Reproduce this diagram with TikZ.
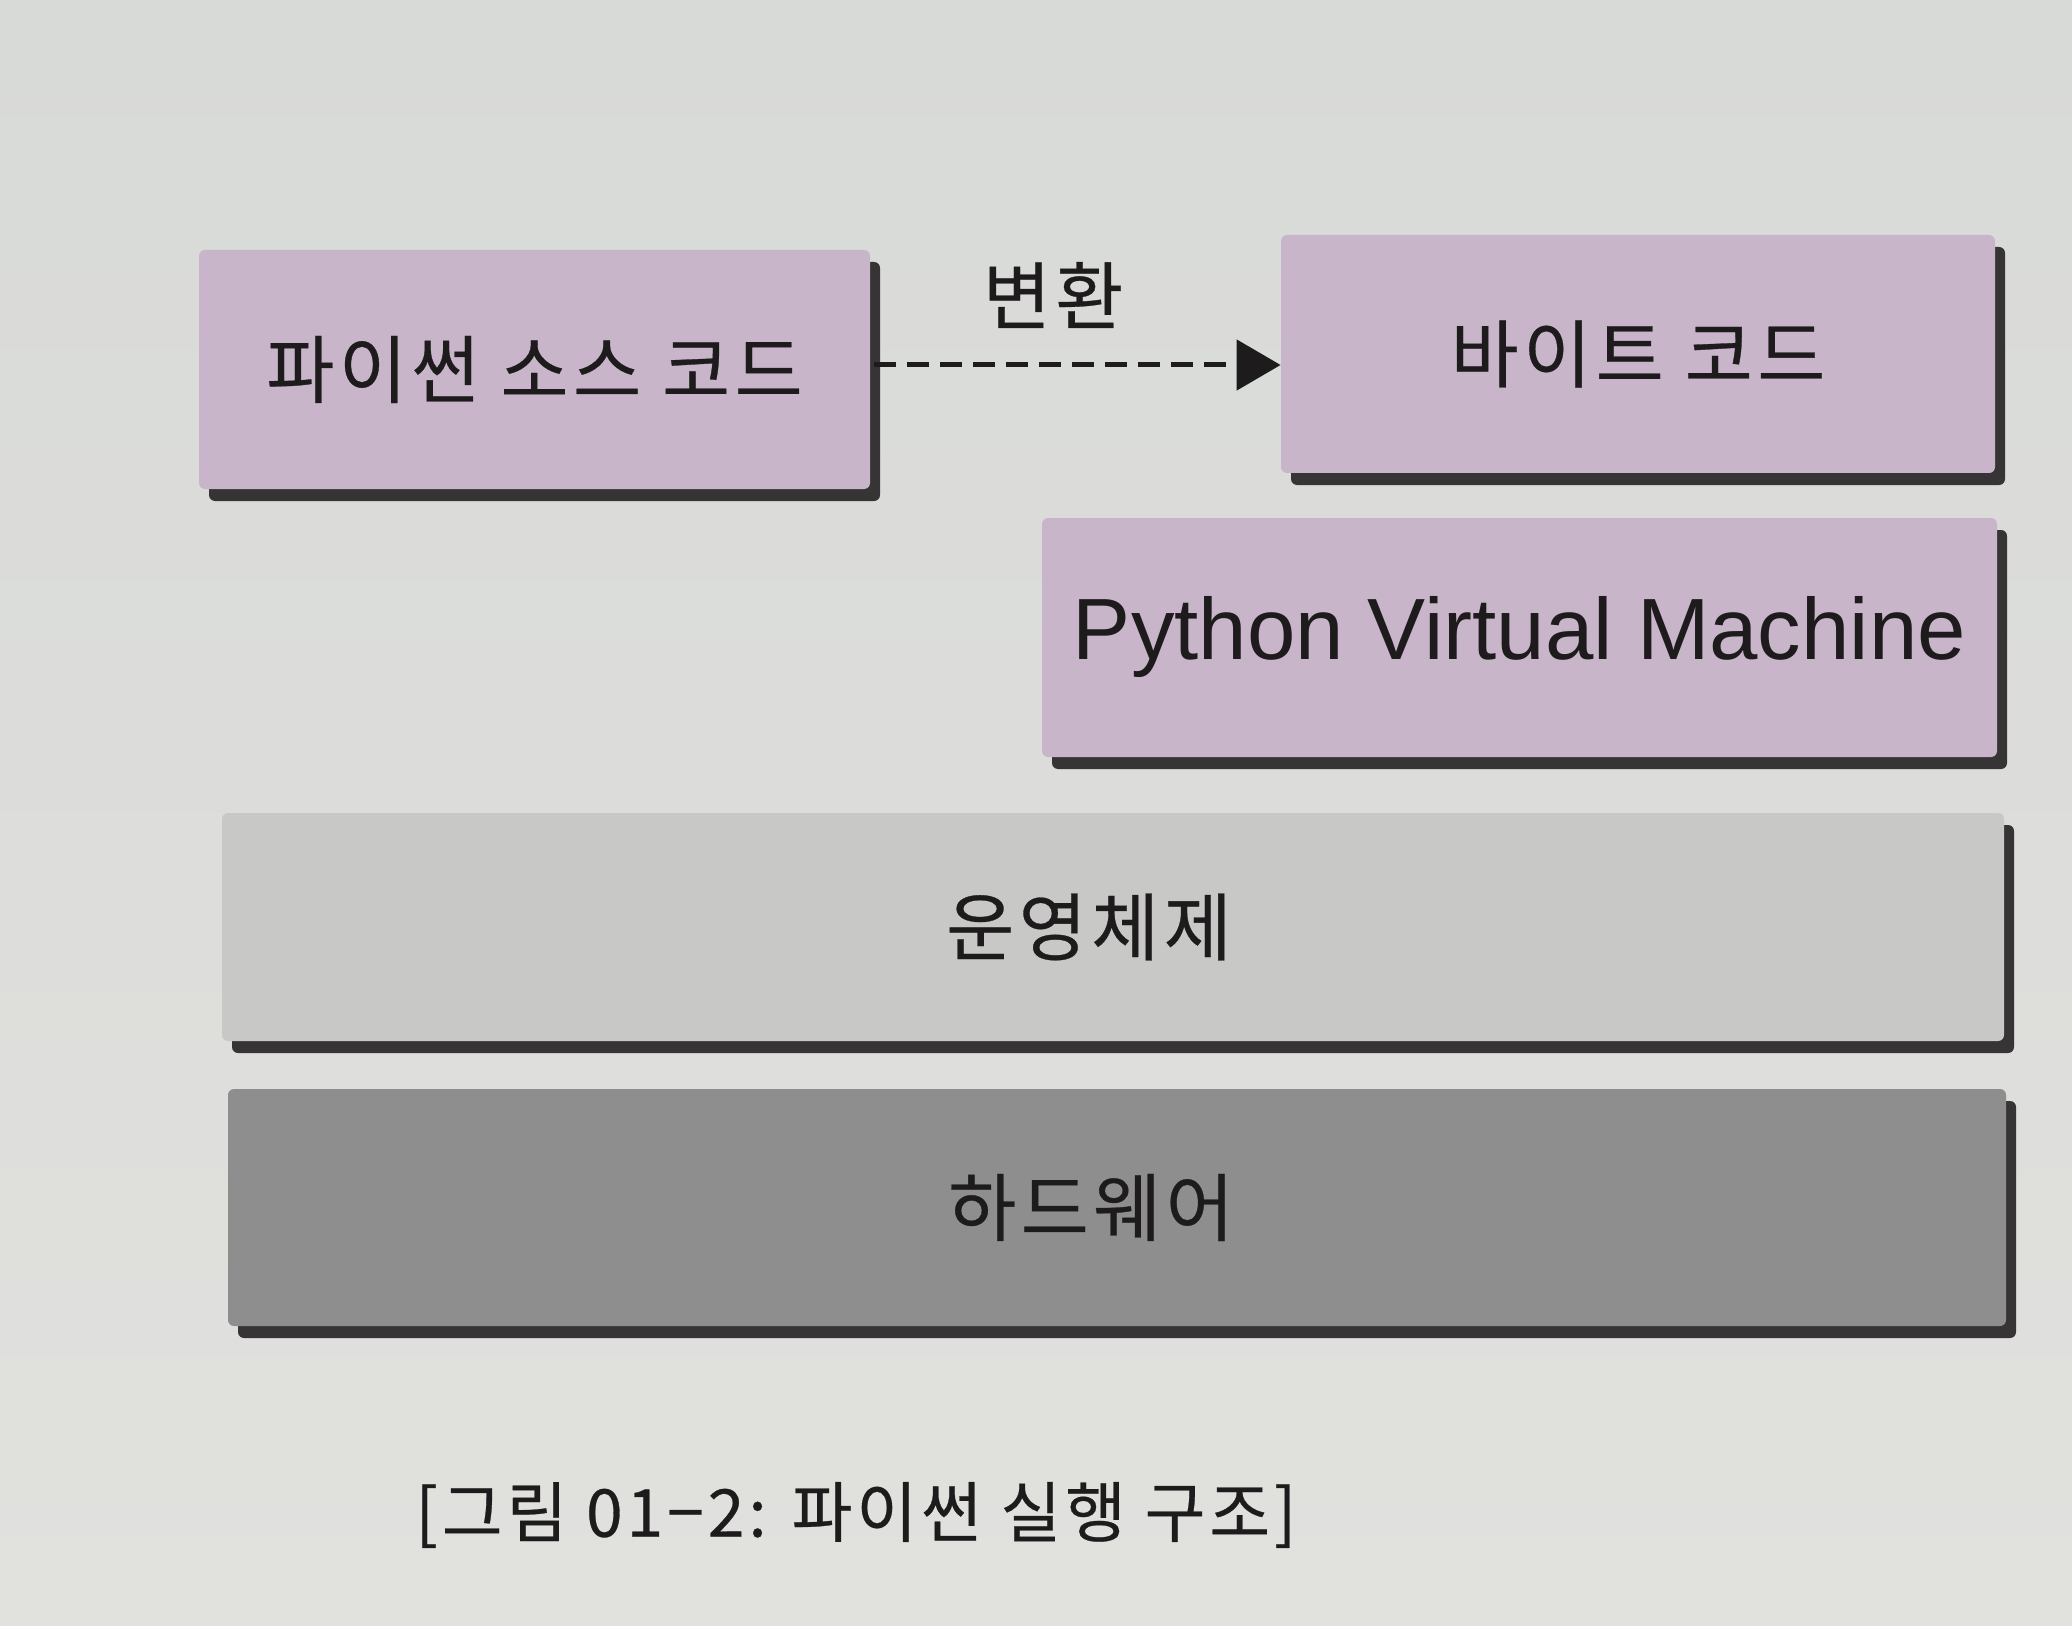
\documentclass[tikz,border=0pt]{standalone}
\usepackage{fontspec}
\setmainfont{Liberation Sans}
\newfontfamily\kr[LetterSpace=6,FakeBold=0.4]{Noto Sans CJK KR}
\usetikzlibrary{arrows.meta,shadows,calc}
\definecolor{bgtop}{HTML}{D8DAD7}
\definecolor{bgmid}{HTML}{E7E8E5}
\definecolor{bgbot}{HTML}{E1E1DE}
\definecolor{purp}{HTML}{C9B5CA}
\definecolor{osgray}{HTML}{C8C8C7}
\definecolor{hwgray}{HTML}{8E8E8E}
\definecolor{shad}{HTML}{363434}
\definecolor{ink}{HTML}{1E1B1D}
\tikzset{
  layer/.style={rounded corners=3pt, inner sep=0pt, text=ink,
    font=\kr\fontsize{37pt}{40pt}\selectfont,
    drop shadow={shadow xshift=5pt, shadow yshift=-6pt, fill=shad, opacity=1}},
  purpbox/.style={layer, fill=purp},
  conv/.style={draw=ink, line width=2.5pt, dash pattern=on 11pt off 5.5pt,
    -{Triangle[length=22pt,width=25pt]}},
}
\begin{document}
\begin{tikzpicture}[x=0.5pt,y=-0.5pt]
\useasboundingbox (0,0) rectangle (2072,1626);
\shade[top color=bgtop, middle color=bgmid, bottom color=bgbot] (0,0) rectangle (2072,1626);

\node[purpbox, minimum width=335.5pt, minimum height=119.5pt] (src) at (534.5,369.5) {파이썬 소스 코드};
\node[purpbox, minimum width=357pt, minimum height=119pt] (byte) at (1638,354) {바이트 코드};
\node[purpbox, minimum width=477.5pt, minimum height=119.5pt,
      font=\fontsize{43.5pt}{46pt}\selectfont] (pvm) at (1519.5,637.5) {Python Virtual Machine};
\node[layer, fill=osgray, minimum width=891pt, minimum height=114pt] (os) at (1113,927) {운영체제\hspace*{24pt}};
\node[layer, fill=hwgray, minimum width=889pt, minimum height=118.5pt] (hw) at (1117,1207.5) {하드웨어\hspace*{26pt}};

\path (src.east) ++(4,-4.5) coordinate (a0);
\draw[conv] (a0) -- (a0 -| byte.west)
  node[pos=0.44, yshift=35pt, text=ink, font=\kr\fontsize{37pt}{40pt}\selectfont] (lbl) {변환};

\node[text=ink, font=\kr\fontsize{33pt}{37pt}\selectfont] (cap) at (856,1515) {[그림 01−2: 파이썬 실행 구조]};
\end{tikzpicture}
\end{document}
